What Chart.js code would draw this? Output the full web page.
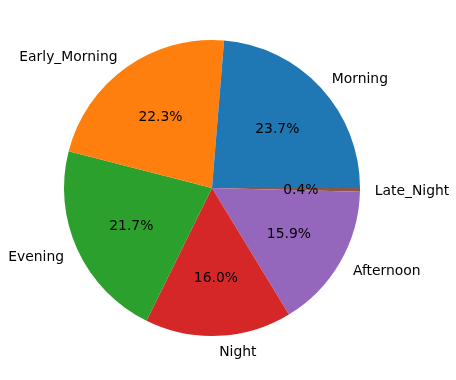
<!DOCTYPE html>
<html>
<head>
<meta charset="utf-8">
<script src="https://cdn.jsdelivr.net/npm/chart.js@4"></script>
<style>
  html, body { margin: 0; padding: 0; background: #fff; }
  #wrap { width: 456px; height: 380px; }
</style>
</head>
<body>
<div id="wrap"><canvas id="timePie" width="456" height="380"></canvas></div>
<script>
// matplotlib order (counter-clockwise from 3 o'clock)
var categories = ['Morning', 'Early_Morning', 'Evening', 'Night', 'Afternoon', 'Late_Night'];
var shares = [23.7, 22.3, 21.7, 16.0, 15.9, 0.4];
var colors = ['#1f77b4', '#ff7f0e', '#2ca02c', '#d62728', '#9467bd', '#8c564b'];

// Chart.js draws clockwise, so reverse to get the same layout
var labelsCw = categories.slice().reverse();
var sharesCw = shares.slice().reverse();
var colorsCw = colors.slice().reverse();
var total = shares.reduce(function (a, b) { return a + b; }, 0);

var pieLabels = {
  id: 'pieLabels',
  afterDraw: function (chart) {
    var ctx = chart.ctx;
    var arcs = chart.getDatasetMeta(0).data;
    ctx.save();
    ctx.font = '13.9px "DejaVu Sans"';
    ctx.fillStyle = '#000';
    ctx.textBaseline = 'middle';
    arcs.forEach(function (arc, i) {
      var mid = (arc.startAngle + arc.endAngle) / 2;
      var r = arc.outerRadius;
      var c = Math.cos(mid), s = Math.sin(mid);
      // outside name
      ctx.textAlign = c > 0 ? 'left' : 'right';
      ctx.fillText(labelsCw[i], arc.x + 1.1 * r * c, arc.y + 1.1 * r * s + 1.5);
      // inside percentage
      ctx.textAlign = 'center';
      var pct = (sharesCw[i] / total * 100).toFixed(1) + '%';
      ctx.fillText(pct, arc.x + 0.6 * r * c, arc.y + 0.6 * r * s + 1.5);
    });
    ctx.restore();
  }
};

var pie = new Chart(document.getElementById('timePie').getContext('2d'), {
  type: 'pie',
  data: {
    labels: labelsCw,
    datasets: [{
      data: sharesCw,
      backgroundColor: colorsCw,
      borderWidth: 0
    }]
  },
  options: {
    responsive: false,
    animation: false,
    rotation: 90,
    layout: { padding: { left: 64, top: 40, right: 96, bottom: 44 } },
    plugins: {
      legend: { display: false },
      tooltip: { enabled: false }
    }
  },
  plugins: [pieLabels]
});
</script>
</body>
</html>
